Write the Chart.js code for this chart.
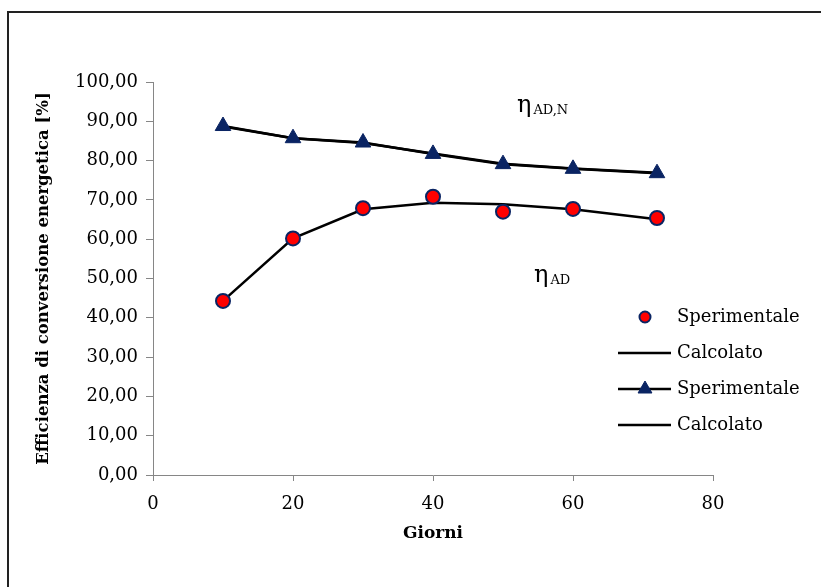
<!DOCTYPE html>
<html>
<head>
<meta charset="utf-8">
<script src="https://cdn.jsdelivr.net/npm/chart.js@4"></script>
<style>
  html, body { margin: 0; padding: 0; background: #fff; }
  #wrap { width: 821px; height: 587px; }
</style>
</head>
<body>
<div id="wrap"><canvas id="chart" width="821" height="587"></canvas></div>
<script>
// giorni di digestione
const days = [10, 20, 30, 40, 50, 60, 72];

// efficienza eta_AD
const adSperimentale = [44.3, 60.2, 67.9, 70.8, 67.0, 67.7, 65.4];
const adCalcolato = [44.3, 60.2, 67.6, 69.3, 68.9, 67.6, 65.1];

// efficienza eta_AD,N
const adnSperimentale = [88.8, 85.7, 84.6, 81.7, 79.1, 77.9, 76.8];
const adnCalcolato = [88.7, 85.7, 84.5, 81.8, 79.2, 78.0, 76.9];

const xTicks = [0, 20, 40, 60, 80];
const yMax = 100;

const serif = "'DejaVu Serif', serif";
const navy = '#0a2463';

const toXY = vals => vals.map((v, i) => ({ x: days[i], y: v }));

const datasets = [
  {
    label: 'Sperimentale',
    data: toXY(adSperimentale),
    showLine: false,
    pointStyle: 'circle',
    pointRadius: 7,
    pointBackgroundColor: '#ff0000',
    pointBorderColor: navy,
    pointBorderWidth: 2,
    order: 1
  },
  {
    label: 'Calcolato',
    data: toXY(adCalcolato),
    showLine: true,
    borderColor: '#000',
    borderWidth: 2.5,
    pointRadius: 0,
    order: 2
  },
  {
    label: 'Sperimentale',
    data: toXY(adnSperimentale),
    showLine: true,
    borderColor: '#000',
    borderWidth: 2.5,
    pointStyle: 'triangle',
    pointRadius: 9,
    pointBackgroundColor: navy,
    pointBorderColor: navy,
    pointBorderWidth: 1,
    order: 1
  },
  {
    label: 'Calcolato',
    data: toXY(adnCalcolato),
    showLine: true,
    borderColor: '#000',
    borderWidth: 2.5,
    pointRadius: 0,
    order: 2
  }
];

// cornice, legenda ed etichette eta
const extras = {
  id: 'extras',
  beforeDraw(chart) {
    const ctx = chart.ctx;
    ctx.save();
    ctx.fillStyle = '#fff';
    ctx.fillRect(0, 0, chart.width, chart.height);
    ctx.strokeStyle = '#222';
    ctx.lineWidth = 2;
    ctx.beginPath();
    ctx.moveTo(8, chart.height);
    ctx.lineTo(8, 12);
    ctx.lineTo(chart.width, 12);
    ctx.stroke();
    ctx.restore();
  },
  afterDraw(chart) {
    const ctx = chart.ctx;
    ctx.save();

    // legenda
    const rows = [317, 353, 389, 425];
    chart.data.datasets.forEach((ds, i) => {
      const y = rows[i];
      if (ds.showLine) {
        ctx.strokeStyle = ds.borderColor;
        ctx.lineWidth = ds.borderWidth;
        ctx.beginPath();
        ctx.moveTo(618, y);
        ctx.lineTo(671, y);
        ctx.stroke();
      }
      if (ds.pointRadius > 0) {
        ctx.fillStyle = ds.pointBackgroundColor;
        ctx.strokeStyle = ds.pointBorderColor;
        ctx.lineWidth = ds.pointBorderWidth;
        Chart.helpers.drawPoint(ctx, {
          pointStyle: ds.pointStyle,
          radius: ds.pointStyle === 'circle' ? 5.5 : 8,
          rotation: 0,
          borderWidth: ds.pointBorderWidth
        }, 645, y);
      }
      ctx.fillStyle = '#000';
      ctx.font = '18px ' + serif;
      ctx.textAlign = 'left';
      ctx.textBaseline = 'middle';
      ctx.fillText(ds.label, 677, y);
    });

    // etichette eta
    const eta = (x, y, sub) => {
      ctx.fillStyle = '#000';
      ctx.textAlign = 'left';
      ctx.textBaseline = 'alphabetic';
      ctx.font = '24px ' + serif;
      ctx.fillText('\u03b7', x, y);
      const w = ctx.measureText('\u03b7').width;
      ctx.font = '13px ' + serif;
      ctx.fillText(sub, x + w + 2, y + 2);
    };
    eta(517, 112, 'AD,N');
    eta(534, 282, 'AD');

    ctx.restore();
  }
};

new Chart(document.getElementById('chart'), {
  type: 'scatter',
  data: { datasets },
  plugins: [extras],
  options: {
    responsive: false,
    animation: false,
    layout: { padding: { left: 34, right: 108, top: 82, bottom: 43 } },
    plugins: {
      legend: { display: false },
      tooltip: { enabled: false }
    },
    scales: {
      x: {
        type: 'linear',
        min: 0,
        max: 80,
        afterBuildTicks: axis => { axis.ticks = xTicks.map(v => ({ value: v })); },
        afterFit: axis => { axis.height = 69; },
        border: { color: '#868686', width: 1 },
        grid: { display: true, drawOnChartArea: false, drawTicks: true, tickLength: 6, color: '#868686' },
        ticks: { color: '#000', font: { family: serif, size: 18 }, padding: 13 },
        title: {
          display: true,
          text: 'Giorni',
          color: '#000',
          font: { family: serif, size: 17, weight: 'bold' },
          padding: { top: 4, bottom: 0 }
        }
      },
      y: {
        min: 0,
        max: yMax,
        afterFit: axis => { axis.width = 119; },
        border: { color: '#868686', width: 1 },
        grid: { display: true, drawOnChartArea: false, drawTicks: true, tickLength: 7, color: '#868686' },
        ticks: {
          stepSize: 10,
          color: '#000',
          font: { family: serif, size: 18 },
          padding: 8,
          callback: v => v.toFixed(2).replace('.', ',')
        },
        title: {
          display: true,
          text: 'Efficienza di conversione energetica [%]',
          color: '#000',
          font: { family: serif, size: 16.5, weight: 'bold' },
          padding: { top: 0, bottom: 0 }
        }
      }
    }
  }
});
</script>
</body>
</html>
